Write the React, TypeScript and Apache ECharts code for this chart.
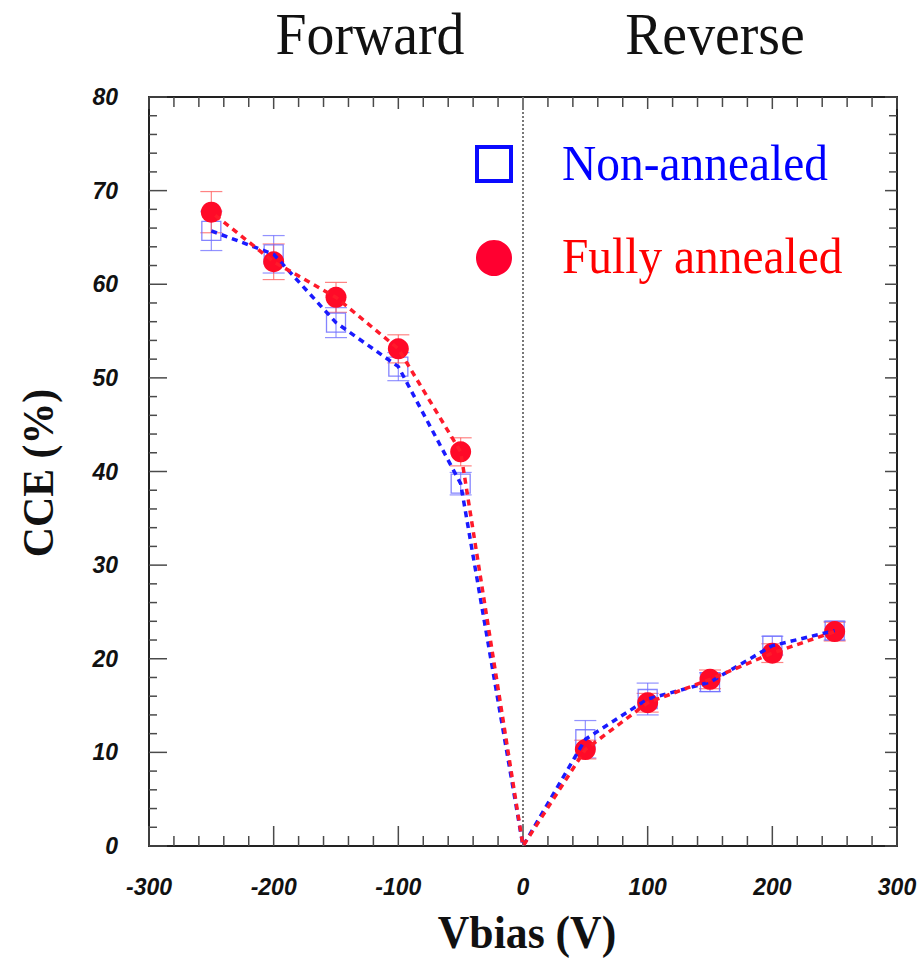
import React, { useEffect, useRef } from "react";
import * as echarts from "echarts";

// Bias voltage (V): negative = forward, positive = reverse
const voltages = [-250, -200, -150, -100, -50, 0, 50, 100, 150, 200, 250];
// Charge collection efficiency (%)
const nonAnnealed = [65.7, 63.2, 55.9, 51.2, 38.7, 0, 11.4, 15.7, 17.5, 21.4, 23.0];
const nonAnnealedErr = [2.1, 2.0, 1.6, 1.5, 1.2, 0, 2.0, 1.7, 1.0, 1.0, 1.0];
const fullyAnnealed = [67.7, 62.4, 58.6, 53.1, 42.1, 0, 10.3, 15.3, 17.8, 20.6, 22.9];
const fullyAnnealedErr = [2.2, 1.9, 1.6, 1.5, 1.5, 0, 1.0, 1.0, 1.0, 1.0, 1.0];

const xTicks = { min: -300, max: 300, interval: 100, minorStep: 20 };
const yTicks = { min: 0, max: 80, interval: 10, minorStep: 2 };

const BLUE = "#1a1aff";
const RED = "#ff1a2a";
const TICK = "#4a4a4a";
const SERIF = "'Liberation Serif', 'Times New Roman', serif";
const SANS = "'Liberation Sans', Arial, sans-serif";

function tickValues(t: { min: number; max: number; minorStep: number }) {
  const out: number[] = [];
  for (let v = t.min; v <= t.max + 1e-9; v += t.minorStep) out.push(Math.round(v * 1000) / 1000);
  return out;
}

function errorBars(name: string, values: number[], errs: number[], color: string) {
  const data = voltages
    .map((v, i) => [v, values[i], errs[i]])
    .filter((d) => d[2] > 0);
  return {
    name,
    type: "custom",
    data,
    renderItem: (_params: any, api: any) => {
      const x = api.value(0);
      const y = api.value(1);
      const e = api.value(2);
      const top = api.coord([x, y + e]);
      const bot = api.coord([x, y - e]);
      const cap = 11;
      const style = { stroke: color, lineWidth: 1.2 };
      return {
        type: "group",
        children: [
          { type: "line", shape: { x1: top[0], y1: top[1], x2: bot[0], y2: bot[1] }, style },
          { type: "line", shape: { x1: top[0] - cap, y1: top[1], x2: top[0] + cap, y2: top[1] }, style },
          { type: "line", shape: { x1: bot[0] - cap, y1: bot[1], x2: bot[0] + cap, y2: bot[1] }, style },
        ],
      };
    },
  };
}

// Inward frame ticks along the bottom/top edges (major every 100 V, minor every 20 V)
function xFrameTicks() {
  return {
    name: "x frame ticks",
    type: "custom",
    silent: true,
    z: 1,
    data: tickValues(xTicks).map((v) => [v, yTicks.min]),
    renderItem: (_params: any, api: any) => {
      const v = api.value(0);
      const major = v % xTicks.interval === 0;
      const bot = api.coord([v, yTicks.min]);
      const top = api.coord([v, yTicks.max]);
      const style = { stroke: TICK, lineWidth: 1.5 };
      return {
        type: "group",
        children: [
          { type: "line", shape: { x1: bot[0], y1: bot[1], x2: bot[0], y2: bot[1] - (major ? 20 : 10) }, style },
          { type: "line", shape: { x1: top[0], y1: top[1], x2: top[0], y2: top[1] + (major ? 12 : 10) }, style },
        ],
      };
    },
  };
}

// Inward frame ticks along the left/right edges (major every 10 %, minor every 2 %)
function yFrameTicks() {
  return {
    name: "y frame ticks",
    type: "custom",
    silent: true,
    z: 1,
    data: tickValues(yTicks).map((v) => [xTicks.min, v]),
    renderItem: (_params: any, api: any) => {
      const v = api.value(1);
      const major = v % yTicks.interval === 0;
      const left = api.coord([xTicks.min, v]);
      const right = api.coord([xTicks.max, v]);
      const style = { stroke: TICK, lineWidth: 1.5 };
      return {
        type: "group",
        children: [
          { type: "line", shape: { x1: left[0], y1: left[1], x2: left[0] + (major ? 18 : 8), y2: left[1] }, style },
          { type: "line", shape: { x1: right[0], y1: right[1], x2: right[0] - (major ? 12 : 8), y2: right[1] }, style },
        ],
      };
    },
  };
}

function points(values: number[]) {
  return voltages.map((v, i) => [v, values[i]]).filter((d) => d[0] !== 0);
}

function curve(values: number[]) {
  return voltages.map((v, i) => [v, values[i]]);
}

export default function App() {
  const ref = useRef<HTMLDivElement>(null);

  useEffect(() => {
    if (!ref.current) return;
    const chart = echarts.init(ref.current, null, { renderer: "svg" });

    const xLabel = {
      fontFamily: SANS,
      fontWeight: "bold",
      fontStyle: "italic",
      fontSize: 23,
      color: "#111",
      margin: 29,
    };
    const yLabel = { ...xLabel, margin: 31 };
    const frame = () => ({ show: true, onZero: false, lineStyle: { color: "#222", width: 2 } });

    const option: any = {
      animation: false,
      backgroundColor: "#ffffff",
      grid: { left: 149, top: 97, width: 748, height: 749 },
      xAxis: [
        {
          type: "value",
          min: xTicks.min,
          max: xTicks.max,
          interval: xTicks.interval,
          position: "bottom",
          axisLine: frame(),
          axisTick: { show: false },
          minorTick: { show: false },
          axisLabel: xLabel,
          splitLine: { show: false },
        },
        {
          type: "value",
          min: xTicks.min,
          max: xTicks.max,
          interval: xTicks.interval,
          position: "top",
          axisLine: frame(),
          axisTick: { show: false },
          minorTick: { show: false },
          axisLabel: { show: false },
          splitLine: { show: false },
        },
      ],
      yAxis: [
        {
          type: "value",
          min: yTicks.min,
          max: yTicks.max,
          interval: yTicks.interval,
          position: "left",
          axisLine: frame(),
          axisTick: { show: false },
          minorTick: { show: false },
          axisLabel: yLabel,
          splitLine: { show: false },
        },
        {
          type: "value",
          min: yTicks.min,
          max: yTicks.max,
          interval: yTicks.interval,
          position: "right",
          axisLine: frame(),
          axisTick: { show: false },
          minorTick: { show: false },
          axisLabel: { show: false },
          splitLine: { show: false },
        },
      ],
      series: [
        xFrameTicks(),
        yFrameTicks(),
        {
          name: "zero",
          type: "line",
          showSymbol: false,
          silent: true,
          data: [[0, yTicks.min], [0, yTicks.max]],
          lineStyle: { color: "#777", width: 2, type: [2, 2] },
        },
        errorBars("Non-annealed err", nonAnnealed, nonAnnealedErr, "rgba(110,110,255,0.75)"),
        errorBars("Fully annealed err", fullyAnnealed, fullyAnnealedErr, "rgba(255,90,90,0.75)"),
        {
          name: "Non-annealed",
          type: "scatter",
          symbol: "rect",
          symbolSize: 19,
          data: points(nonAnnealed),
          itemStyle: {
            color: "rgba(255,255,255,0)",
            borderColor: "rgba(110,110,255,0.85)",
            borderWidth: 1.3,
            opacity: 1,
          },
        },
        {
          name: "Fully annealed",
          type: "scatter",
          symbol: "circle",
          symbolSize: 21,
          data: points(fullyAnnealed),
          itemStyle: { color: "#ff0a28", opacity: 1 },
        },
        {
          name: "Non-annealed fit",
          type: "line",
          showSymbol: false,
          data: curve(nonAnnealed),
          lineStyle: { color: BLUE, width: 3.5, type: [6, 5], cap: "butt" },
        },
        {
          name: "Fully annealed fit",
          type: "line",
          showSymbol: false,
          data: curve(fullyAnnealed),
          lineStyle: { color: RED, width: 3.5, type: [6, 5], dashOffset: 5.5, cap: "butt" },
        },
      ],
      graphic: [
        {
          type: "text",
          x: 370,
          y: 34,
          scaleX: 0.93,
          style: { text: "Forward", font: `60px ${SERIF}`, fill: "#111", align: "center", verticalAlign: "middle" },
        },
        {
          type: "text",
          x: 715,
          y: 34,
          scaleX: 0.93,
          style: { text: "Reverse", font: `60px ${SERIF}`, fill: "#111", align: "center", verticalAlign: "middle" },
        },
        {
          type: "text",
          x: 527,
          y: 932,
          scaleX: 0.93,
          style: { text: "Vbias (V)", font: `bold 47px ${SERIF}`, fill: "#111", align: "center", verticalAlign: "middle" },
        },
        {
          type: "text",
          x: 37,
          y: 473,
          rotation: Math.PI / 2,
          scaleX: 0.93,
          style: { text: "CCE (%)", font: `bold 45px ${SERIF}`, fill: "#111", align: "center", verticalAlign: "middle" },
        },
        {
          type: "rect",
          shape: { x: 477, y: 147, width: 34, height: 34 },
          style: { fill: "#ffffff", stroke: "#0a0aff", lineWidth: 4 },
        },
        {
          type: "circle",
          shape: { cx: 494, cy: 258, r: 18 },
          style: { fill: "#ff0030" },
        },
        {
          type: "text",
          x: 562,
          y: 163,
          scaleX: 0.93,
          style: { text: "Non-annealed", font: `51px ${SERIF}`, fill: "#0000ff", align: "left", verticalAlign: "middle" },
        },
        {
          type: "text",
          x: 562,
          y: 256,
          scaleX: 0.93,
          style: { text: "Fully annealed", font: `51px ${SERIF}`, fill: "#ff0000", align: "left", verticalAlign: "middle" },
        },
      ],
    };

    chart.setOption(option);
    return () => chart.dispose();
  }, []);

  return (
    <div
      ref={ref}
      style={{ position: "fixed", left: 0, top: 0, width: 924, height: 960, background: "#fff" }}
    />
  );
}
